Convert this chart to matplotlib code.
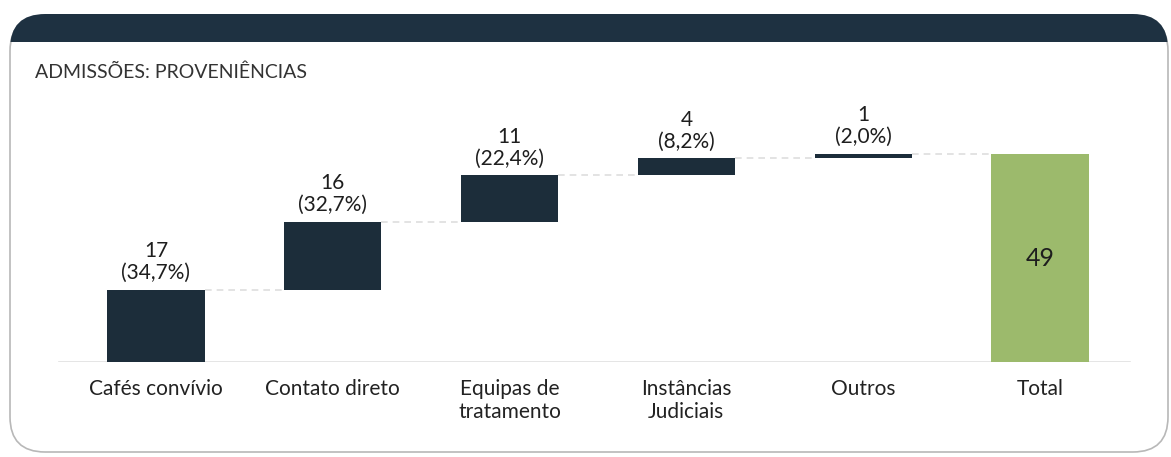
import matplotlib
matplotlib.use("Agg")
import matplotlib.pyplot as plt
from matplotlib.patches import FancyBboxPatch, Rectangle

# data
categories = ["Cafés convívio", "Contato direto", "Equipas de\ntratamento",
              "Instâncias\nJudiciais", "Outros", "Total"]
values = [17, 16, 11, 4, 1]
pct_labels = ["34,7%", "32,7%", "22,4%", "8,2%", "2,0%"]
total = sum(values)

navy = "#1c2d3a"
green = "#9cba6c"
W, H = 1171, 457

plt.rcParams['font.family'] = ['Lato', 'DejaVu Sans']

fig = plt.figure(figsize=(W / 100, H / 100), dpi=100)


def fx(px):
    return px / W


def fy(py):
    return 1 - py / H


# frame box + header band (behind the axes)
box = FancyBboxPatch((fx(10), fy(452)), fx(1158), (452 - 16) / H,
                     boxstyle="round,pad=0,rounding_size=0.03",
                     transform=fig.transFigure, facecolor="white",
                     edgecolor="#b8b8b8", linewidth=1.2, mutation_aspect=W / H,
                     zorder=-3)
fig.patches.append(box)
band = FancyBboxPatch((fx(10), fy(90)), fx(1158), (90 - 14) / H,
                      boxstyle="round,pad=0,rounding_size=0.03",
                      transform=fig.transFigure, facecolor="#1e3141",
                      edgecolor="none", mutation_aspect=W / H, zorder=-2)
clip = Rectangle((0, fy(42)), 1, (42 - 14) / H, transform=fig.transFigure)
band.set_clip_path(clip)
fig.patches.append(band)

fig.text(fx(35), fy(72), "ADMISSÕES: PROVENIÊNCIAS", fontsize=14,
         color="#333333", va="center", ha="left")

# axes: baseline at y=362 px, 176.8 px per category, 4.24 px per unit
ax = fig.add_axes([0, 95 / H, 1, 1 - 95 / H])
ax.set_xlim(-156 / 176.8, (W - 156) / 176.8)
ax.set_ylim(0, (H - 95) / 4.24)
ax.patch.set_alpha(0)
for s in ax.spines.values():
    s.set_visible(False)
ax.set_yticks([])

x = list(range(len(categories)))
bottoms = []
run = 0
for v in values:
    bottoms.append(run)
    run += v

ax.bar(x[:-1], values, bottom=bottoms, width=0.55, color=navy, zorder=3)
ax.bar(x[-1], total, width=0.55, color=green, zorder=3)

# connectors
tops = [b + v for b, v in zip(bottoms, values)]
for i, t in enumerate(tops):
    ax.plot([i + 0.275, i + 1 - 0.275], [t, t], color="#dedede",
            linestyle=(0, (4, 3)), linewidth=1.2, zorder=1)
ax.axhline(0, xmin=0.05, xmax=0.965, color="#e0e0e0", linewidth=1.2, zorder=1)

for i, (v, p) in enumerate(zip(values, pct_labels)):
    ax.annotate(f"{v}\n({p})", (i, tops[i]), xytext=(0, 5),
                textcoords="offset points", ha="center", va="bottom",
                fontsize=15, color="#1e1e1e", linespacing=1.12)
ax.text(x[-1], total / 2, str(total), ha="center", va="center",
        fontsize=18, color="#1e1e1e")

ax.set_xticks(x)
ax.set_xticklabels(categories, fontsize=15, color="#222222", linespacing=1.22)
ax.tick_params(axis="x", length=0, pad=12)

fig.savefig("out.png", dpi=100)
